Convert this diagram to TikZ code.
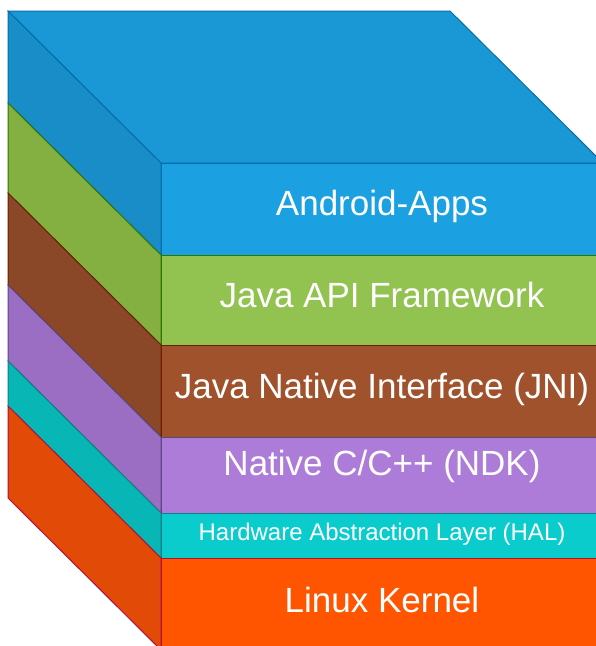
\documentclass[tikz,border=0pt]{standalone}
\usepackage{fontspec}
\setmainfont{Liberation Sans}

\definecolor{topblue}{HTML}{1A97D5}
\definecolor{appsfront}{HTML}{1BA1E2}
\definecolor{appsside}{HTML}{188DC8}
\definecolor{appsline}{HTML}{006EAF}
\definecolor{apifront}{HTML}{92C350}
\definecolor{apiside}{HTML}{84B042}
\definecolor{apiline}{HTML}{2D7600}
\definecolor{jnifront}{HTML}{A0522D}
\definecolor{jniside}{HTML}{8B4828}
\definecolor{jniline}{HTML}{6D1F00}
\definecolor{ndkfront}{HTML}{AD7BD8}
\definecolor{ndkside}{HTML}{9C6EC3}
\definecolor{ndkline}{HTML}{5E4780}
\definecolor{halfront}{HTML}{0ACCCC}
\definecolor{halside}{HTML}{08B6B6}
\definecolor{halline}{HTML}{0E7F88}
\definecolor{kernfront}{HTML}{FF5500}
\definecolor{kernside}{HTML}{E24A07}
\definecolor{kernline}{HTML}{B0103A}

\begin{document}
\begin{tikzpicture}[x=1pt, y=-1pt, line width=1pt, line join=miter,
    lbl/.style={text=white, anchor=base, font=\fontsize{35}{42}\selectfont},
    lblsmall/.style={text=white, anchor=base, font=\fontsize{24}{29}\selectfont}]
    \useasboundingbox (0,0) rectangle (596,646);

    % top face
    \filldraw[fill=topblue, draw=appsline] (8,11) -- (450,11) -- (603,163) -- (161,163) -- cycle;

    % Android-Apps
    \filldraw[fill=appsside, draw=appsline] (8,11) -- (161,163) -- (161,255) -- (8,103) -- cycle;
    \filldraw[fill=appsfront, draw=appsline] (161,163) rectangle (603,255);
    % Java API Framework
    \filldraw[fill=apiside, draw=apiline] (8,103) -- (161,255) -- (161,345) -- (8,193) -- cycle;
    \filldraw[fill=apifront, draw=apiline] (161,255) rectangle (603,345);
    % JNI
    \filldraw[fill=jniside, draw=jniline] (8,193) -- (161,345) -- (161,437) -- (8,285) -- cycle;
    \filldraw[fill=jnifront, draw=jniline] (161,345) rectangle (603,437);
    % NDK
    \filldraw[fill=ndkside, draw=ndkline] (8,285) -- (161,437) -- (161,513) -- (8,361) -- cycle;
    \filldraw[fill=ndkfront, draw=ndkline] (161,437) rectangle (603,513);
    % HAL
    \filldraw[fill=halside, draw=halline] (8,361) -- (161,513) -- (161,558) -- (8,406) -- cycle;
    \filldraw[fill=halfront, draw=halline] (161,513) rectangle (603,558);
    % Linux Kernel
    \filldraw[fill=kernside, draw=kernline] (8,406) -- (161,558) -- (161,650) -- (8,498) -- cycle;
    \filldraw[fill=kernfront, draw=kernline] (161,558) rectangle (603,650);

    \node[lbl] (apps) at (382,215) {Android-Apps};
    \node[lbl] (api) at (382,307) {Java API Framework};
    \node[lbl] (jni) at (382,398) {Java Native Interface (JNI)};
    \node[lbl] (ndk) at (382,475) {Native C/C++ (NDK)};
    \node[lblsmall] (hal) at (382,540) {Hardware Abstraction Layer (HAL)};
    \node[lbl] (kernel) at (382,612) {Linux Kernel};
\end{tikzpicture}
\end{document}
